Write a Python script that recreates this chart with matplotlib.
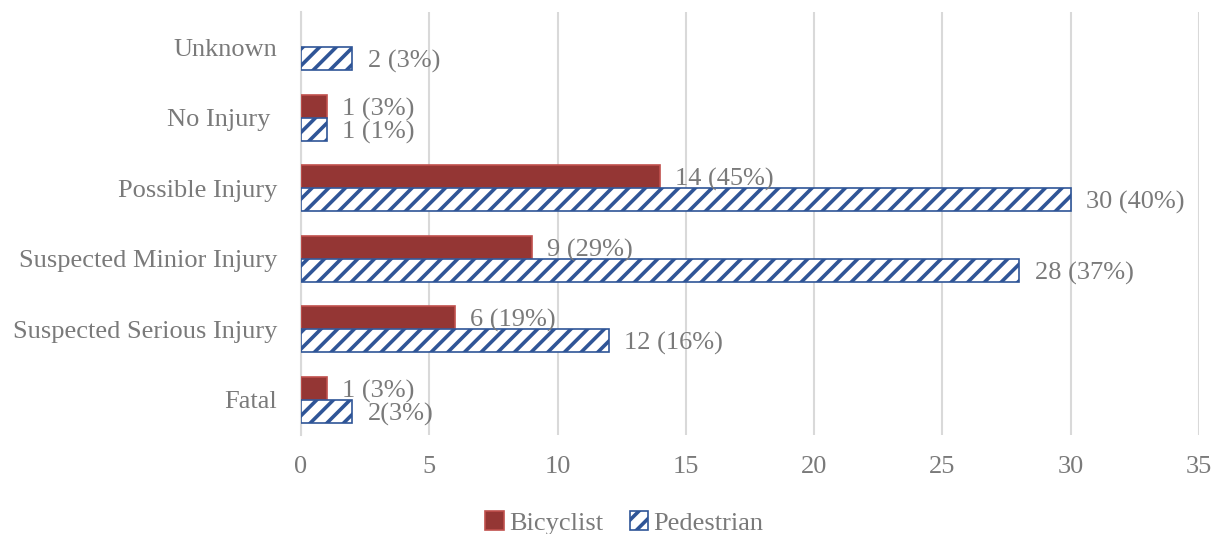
import numpy as np
import matplotlib.pyplot as plt

# Data (bottom to top)
categories = ['Fatal', 'Suspected Serious Injury', 'Suspected Minior Injury',
              'Possible Injury', 'No Injury ', 'Unknown']
bicyclist = [1, 6, 9, 14, 1, 0]
pedestrian = [2, 12, 28, 30, 1, 2]
bicyclist_labels = ['1 (3%)', '6 (19%)', '9 (29%)', '14 (45%)', '1 (3%)', '']
pedestrian_labels = ['2(3%)', '12 (16%)', '28 (37%)', '30 (40%)', '1 (1%)', '2 (3%)']

grey = '#7a7a7a'
plt.rcParams['font.family'] = ['Liberation Serif', 'DejaVu Serif']
plt.rcParams['hatch.linewidth'] = 2.6

fig = plt.figure(figsize = (12.2, 5.34), dpi = 100)
ax = fig.add_axes([0.2467, 0.1854, 0.7361, 0.7921])

y = np.arange(len(categories))
h = 0.325

b1 = ax.barh(y + h / 2, bicyclist, height = h, color = '#943634',
             edgecolor = '#c0504d', linewidth = 1.2, label = 'Bicyclist', zorder = 3)
b2 = ax.barh(y - h / 2, pedestrian, height = h, color = 'white',
             edgecolor = '#2f5597', hatch = '//', linewidth = 1.2,
             label = 'Pedestrian', zorder = 3)

# hide empty bars (no outline stub at zero)
for rect in list(b1) + list(b2):
    if rect.get_width() == 0:
        rect.set_visible(False)

for rect, text in zip(b1, bicyclist_labels):
    if text:
        ax.annotate(text, (rect.get_width(), rect.get_y() + rect.get_height() / 2),
                    xytext = (11, -2), textcoords = 'offset points',
                    va = 'center', ha = 'left', fontsize = 19, color = grey)
for rect, text in zip(b2, pedestrian_labels):
    ax.annotate(text, (rect.get_width(), rect.get_y() + rect.get_height() / 2),
                xytext = (11, -2), textcoords = 'offset points',
                va = 'center', ha = 'left', fontsize = 19, color = grey)

ax.set_xlim(0, 35)
ax.set_ylim(-0.5, len(categories) - 0.5)
ax.set_xticks(range(0, 36, 5))
ax.set_yticks(y)
ax.set_yticklabels(categories)
ax.tick_params(length = 0, labelsize = 19, labelcolor = grey)
ax.tick_params(axis = 'y', pad = 17)
ax.tick_params(axis = 'x', pad = 15)
ax.grid(axis = 'x', color = '#d9d9d9', linewidth = 1.5, zorder = 0)
for s in ['top', 'right', 'bottom']:
    ax.spines[s].set_visible(False)
ax.spines['left'].set_color('#d9d9d9')
ax.spines['left'].set_linewidth(1.5)

ax.legend(loc = 'center', bbox_to_anchor = (0.36, -0.208), ncol = 2,
          frameon = False, fontsize = 19, labelcolor = grey,
          handlelength = 0.7, handleheight = 0.7, handletextpad = 0.2,
          columnspacing = 1.0, borderpad = 0.1)

fig.savefig('out.png', dpi = 100)
